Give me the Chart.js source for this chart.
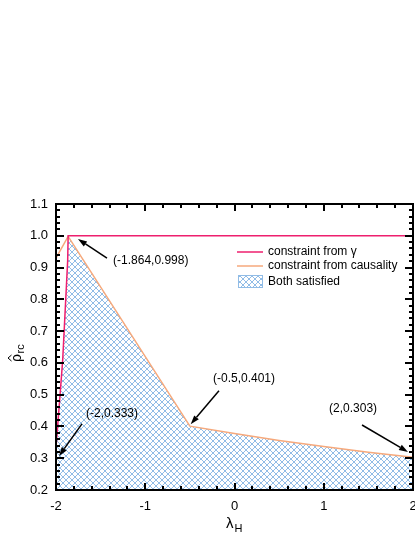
<!DOCTYPE html>
<html><head><meta charset="utf-8">
<script src="https://cdn.jsdelivr.net/npm/chart.js@4.4.1/dist/chart.umd.min.js"></script>
<style>html,body{margin:0;padding:0;background:#fff;}#wrap{width:415px;height:537px;}</style>
</head><body><div id="wrap"><canvas id="c" width="415" height="537"></canvas></div>
<script>
// ---- data ----
const lambdaGamma = [-2, -1.96, -1.925, -1.869, -1.864, 2];
const rhoGamma = [0.333, 0.48, 0.609, 0.923, 1.0, 1.0];
const lambdaCausality = [-2, -1.864, -0.5, 0, 0.5, 1, 1.5, 2];
const rhoCausality = [0.93, 0.998, 0.401, 0.378, 0.356, 0.337, 0.319, 0.303];
const xTickValues = [-2, -1, 0, 1, 2];
const yTickValues = [0.2, 0.3, 0.4, 0.5, 0.6, 0.7, 0.8, 0.9, 1.0, 1.1];
const seriesLabels = ['constraint from \u03b3', 'constraint from causality', 'Both satisfied'];
const annotationLabels = ['(-1.864,0.998)', '(-2,0.333)', '(-0.5,0.401)', '(2,0.303)'];

// annotation placement in data units (text left/center, arrow tail, arrow tip)
const annotationPlacement = [
  {text: [-1.361, 0.921], tail: [-1.429, 0.930], tip: [-1.754, 0.990]},
  {text: [-1.664, 0.439], tail: [-1.709, 0.408], tip: [-1.966, 0.307]},
  {text: [-0.241, 0.549], tail: [-0.174, 0.512], tip: [-0.491, 0.407]},
  {text: [1.059, 0.455], tail: [1.429, 0.4045], tip: [1.944, 0.3196]}
];

const FONT = "'Liberation Sans', Arial, sans-serif";
const RED = '#ee1f6e';
const ORANGE = '#f6a97c';
const HATCH = 'rgb(145,188,230)';

function makePattern() {
  const c = document.createElement('canvas');
  c.width = 6; c.height = 6;
  const g = c.getContext('2d');
  g.fillStyle = HATCH;
  for (let i = 0; i < 6; i++) { g.fillRect(i, i, 1, 1); g.fillRect(i, 5 - i, 1, 1); }
  return g.createPattern(c, 'repeat');
}
const pattern = makePattern();

const gammaPts = lambdaGamma.map((x, i) => ({x, y: rhoGamma[i]}));
const causPts = lambdaCausality.map((x, i) => ({x, y: rhoCausality[i]}));
const peakX = lambdaCausality[1];
const fillPts = gammaPts.filter(p => p.x < peakX).concat(causPts.filter(p => p.x >= peakX));

const decor = {
  id: 'decor',
  afterDatasetsDraw(chart) {
    const ctx = chart.ctx, a = chart.chartArea;
    const xs = chart.scales.x, ys = chart.scales.y;
    ctx.save();
    ctx.strokeStyle = '#000';
    ctx.lineWidth = 2;
    ctx.beginPath();
    for (let k = 0; k <= 20; k++) {
      const v = -2 + k * 0.2;
      const px = Math.round(xs.getPixelForValue(v));
      const len = (k % 5 === 0) ? 7 : 4;
      ctx.moveTo(px, a.bottom); ctx.lineTo(px, a.bottom - len);
      ctx.moveTo(px, a.top); ctx.lineTo(px, a.top + len);
    }
    for (let k = 0; k <= 45; k++) {
      const v = 0.2 + k * 0.02;
      const py = Math.round(ys.getPixelForValue(v));
      const len = (k % 5 === 0) ? 8 : 4;
      ctx.moveTo(a.left, py); ctx.lineTo(a.left + len, py);
      ctx.moveTo(a.right, py); ctx.lineTo(a.right - len, py);
    }
    ctx.stroke();
    ctx.strokeRect(a.left, a.top, a.right - a.left, a.bottom - a.top);

    // legend
    const lx0 = 237, lx1 = 263, tx = 268;
    const rows = [252, 266, 281.5];
    ctx.lineWidth = 1.5;
    ctx.strokeStyle = RED;
    ctx.beginPath(); ctx.moveTo(lx0, rows[0]); ctx.lineTo(lx1, rows[0]); ctx.stroke();
    ctx.strokeStyle = ORANGE;
    ctx.beginPath(); ctx.moveTo(lx0, rows[1]); ctx.lineTo(lx1, rows[1]); ctx.stroke();
    ctx.fillStyle = pattern;
    ctx.fillRect(lx0 + 1, rows[2] - 6.5, lx1 - lx0 - 1, 13);
    ctx.strokeStyle = HATCH; ctx.lineWidth = 1;
    ctx.strokeRect(lx0 + 1.5, rows[2] - 6, lx1 - lx0 - 2, 12);
    ctx.fillStyle = '#000';
    ctx.font = '12px ' + FONT;
    ctx.textBaseline = 'middle';
    ctx.textAlign = 'left';
    seriesLabels.forEach((t, i) => ctx.fillText(t, tx, rows[i]));

    // annotations with arrows
    annotationPlacement.forEach((p, i) => {
      const tx0 = xs.getPixelForValue(p.text[0]), ty0 = ys.getPixelForValue(p.text[1]);
      ctx.fillStyle = '#000';
      ctx.fillText(annotationLabels[i], tx0, ty0);
      const x1 = xs.getPixelForValue(p.tail[0]), y1 = ys.getPixelForValue(p.tail[1]);
      const x2 = xs.getPixelForValue(p.tip[0]), y2 = ys.getPixelForValue(p.tip[1]);
      const ang = Math.atan2(y2 - y1, x2 - x1);
      const hl = 9, hw = 3;
      const bx = x2 - hl * Math.cos(ang), by = y2 - hl * Math.sin(ang);
      ctx.strokeStyle = '#000'; ctx.lineWidth = 1.5;
      ctx.beginPath(); ctx.moveTo(x1, y1); ctx.lineTo(bx, by); ctx.stroke();
      ctx.beginPath();
      ctx.moveTo(x2, y2);
      ctx.lineTo(bx + hw * Math.sin(ang), by - hw * Math.cos(ang));
      ctx.lineTo(bx - hw * Math.sin(ang), by + hw * Math.cos(ang));
      ctx.closePath(); ctx.fill();
    });

    // x title: lambda_H
    ctx.textBaseline = 'alphabetic';
    ctx.font = '15px ' + FONT;
    const xc = (a.left + a.right) / 2;
    ctx.fillText('\u03bb', xc - 8.5, 528);
    const lw = ctx.measureText('\u03bb').width;
    ctx.font = '11px ' + FONT;
    ctx.fillText('H', xc - 8.5 + lw + 1, 532);

    // y title: rho-hat_rc (rotated)
    ctx.save();
    ctx.translate(21, 362);
    ctx.rotate(-Math.PI / 2);
    ctx.font = '14px ' + FONT;
    ctx.fillText('\u03c1', 0, 0);
    const rw = ctx.measureText('\u03c1').width;
    ctx.strokeStyle = '#000'; ctx.lineWidth = 1;
    ctx.beginPath();
    ctx.moveTo(rw / 2 - 3, -9.5); ctx.lineTo(rw / 2, -13); ctx.lineTo(rw / 2 + 3, -9.5);
    ctx.stroke();
    ctx.font = '11px ' + FONT;
    ctx.fillText('rc', rw + 0.5, 3);
    ctx.restore();

    ctx.restore();
  }
};

new Chart(document.getElementById('c'), {
  type: 'line',
  data: {
    datasets: [
      {label: seriesLabels[0], data: gammaPts, borderColor: RED, borderWidth: 1.5, pointRadius: 0, fill: false, tension: 0, order: 1},
      {label: seriesLabels[1], data: causPts, borderColor: ORANGE, borderWidth: 1.5, pointRadius: 0, fill: false, tension: 0, order: 2},
      {label: seriesLabels[2], data: fillPts, borderWidth: 0, borderColor: 'rgba(0,0,0,0)', backgroundColor: pattern, pointRadius: 0, fill: 'start', tension: 0, order: 3}
    ]
  },
  options: {
    responsive: false,
    animation: false,
    events: [],
    layout: {padding: {top: 204, right: 2, left: 0, bottom: 0}},
    plugins: {legend: {display: false}, tooltip: {enabled: false}},
    scales: {
      x: {
        type: 'linear', min: -2, max: 2,
        grid: {display: false}, border: {display: false},
        afterBuildTicks: s => { s.ticks = xTickValues.map(v => ({value: v})); },
        afterFit: s => { s.height = 47; s.paddingLeft = 0; s.paddingRight = 0; },
        ticks: {color: '#000', font: {family: FONT, size: 13}, padding: 1, autoSkip: false, maxRotation: 0,
                callback: v => String(v)}
      },
      y: {
        type: 'linear', min: 0.2, max: 1.1,
        grid: {display: false}, border: {display: false},
        afterBuildTicks: s => { s.ticks = yTickValues.map(v => ({value: v})); },
        afterFit: s => { s.width = 56; s.paddingTop = 0; s.paddingBottom = 0; },
        ticks: {color: '#000', font: {family: FONT, size: 13}, padding: 0, autoSkip: false,
                callback: v => Number(v).toFixed(1)}
      }
    }
  },
  plugins: [decor]
});
</script>
</body></html>
